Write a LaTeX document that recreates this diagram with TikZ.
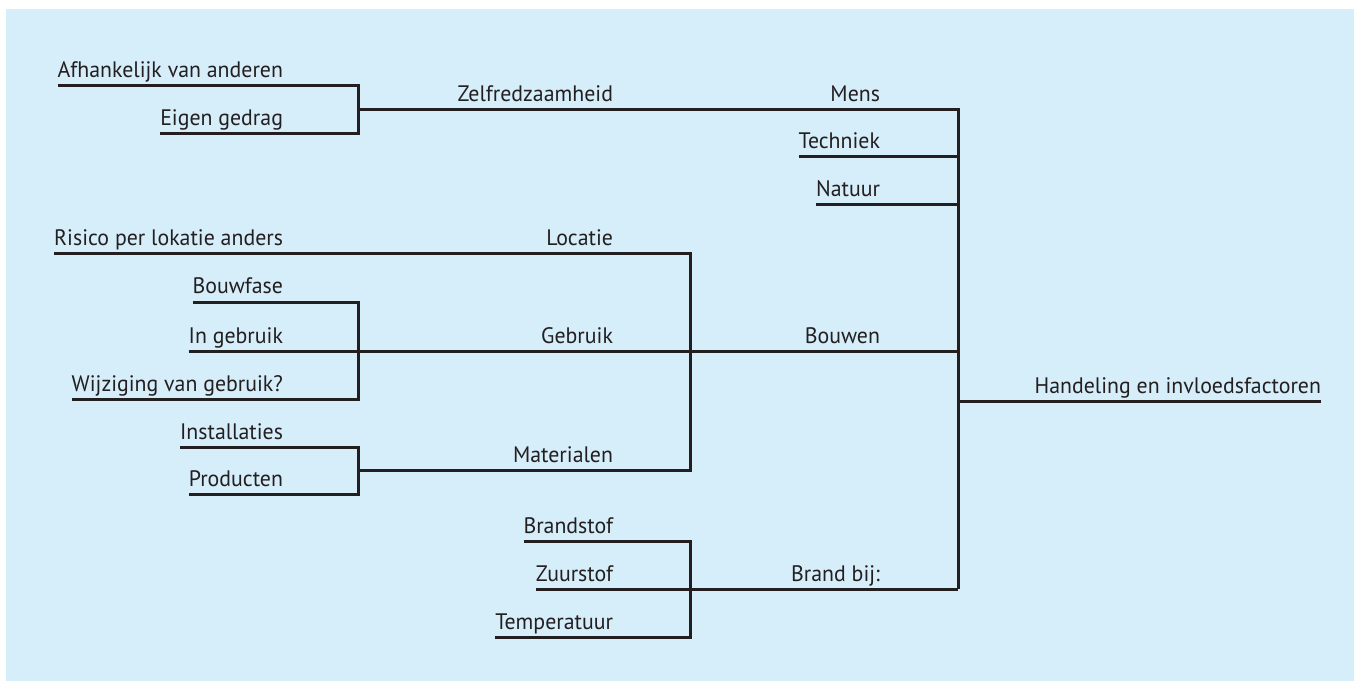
\documentclass[tikz,border=0pt]{standalone}
\usepackage{fontspec}
\setmainfont{PT Sans}[FakeStretch=0.975]
\definecolor{bgblue}{RGB}{214,237,250}
\definecolor{ink}{RGB}{35,31,32}
\begin{document}
\begin{tikzpicture}[x=0.75pt,y=-0.75pt,
  lab/.style={inner sep=0pt,outer sep=0pt,anchor=base east,text=ink,font=\fontsize{16.8}{18}\selectfont},
  wire/.style={draw=ink,line width=2.25pt,line cap=butt,line join=miter}]
\useasboundingbox (0,0) rectangle (1354,681);
\fill[bgblue] (6,9) rectangle (1354,681);
% junction coordinates
\coordinate (v1a) at (358,110);
\coordinate (v1b) at (358,351);
\coordinate (v1c) at (358,470);
\coordinate (v2a) at (690,351);
\coordinate (v2b) at (690,589);
\coordinate (v3) at (958,401);
% column A labels (right edge 283)
\node[lab] (afh) at (283,78) {Afhankelijk van anderen};
\node[lab] (eig) at (283,126) {Eigen gedrag};
\node[lab] (ris) at (283,246) {Risico per lokatie anders};
\node[lab] (bouwf) at (283,294) {Bouwfase};
\node[lab] (ingeb) at (283,343) {In gebruik};
\node[lab] (wijz) at (283,391) {Wijziging van gebruik?};
\node[lab] (inst) at (283,439) {Installaties};
\node[lab] (prod) at (283,486) {Producten};
% column B labels (right edge 613)
\node[lab] (zelf) at (613,102) {Zelfredzaamheid};
\node[lab] (loc) at (613,246) {Locatie};
\node[lab] (gebr) at (613,343) {Gebruik};
\node[lab] (mat) at (613,462) {Materialen};
\node[lab] (brst) at (613,533) {Brandstof};
\node[lab] (zuur) at (613,581) {Zuurstof};
\node[lab] (temp) at (613,629) {Temperatuur};
% column C labels (right edge 880)
\node[lab] (mens) at (880,102) {Mens};
\node[lab] (tech) at (880,149) {Techniek};
\node[lab] (nat) at (880,197) {Natuur};
\node[lab] (bouw) at (880,343) {Bouwen};
\node[lab] (brand) at (880,581) {Brand bij:};
% column D
\node[lab] (hand) at (1321,393) {Handeling en invloedsfactoren};
% group Zelfredzaamheid
\draw[wire] (afh.base west |- 0,86) -- (v1a |- 0,86) -- (v1a |- 0,134) -- (eig.base west |- 0,134);
\draw[wire] (v1a) -- (zelf.base east |- v1a) -- (mens.base east |- v1a) -- (v3 |- v1a) -- (v3 |- 0,589);
% Techniek, Natuur
\draw[wire] (tech.base west |- 0,157) -- (v3 |- 0,157);
\draw[wire] (nat.base west |- 0,205) -- (v3 |- 0,205);
% group Gebruik
\draw[wire] (bouwf.base west |- 0,302) -- (v1b |- 0,302) -- (v1b |- 0,399) -- (wijz.base west |- 0,399);
\draw[wire] (ingeb.base west |- v1b) -- (v1b) -- (gebr.base east |- v1b) -- (v2a) -- (bouw.base east |- v1b) -- (v3 |- v1b);
% Locatie / Materialen
\draw[wire] (ris.base west |- 0,254) -- (loc.base east |- 0,254) -- (v2a |- 0,254) -- (v2a |- v1c) -- (mat.base east |- v1c) -- (v1c);
\draw[wire] (inst.base west |- 0,447) -- (v1c |- 0,447) -- (v1c |- 0,494) -- (prod.base west |- 0,494);
% Brand group
\draw[wire] (brst.base west |- 0,541) -- (v2b |- 0,541) -- (v2b |- 0,637) -- (temp.base west |- 0,637);
\draw[wire] (zuur.base west |- v2b) -- (v2b) -- (brand.base east |- v2b) -- (v3 |- v2b);
% main output
\draw[wire] (v3) -- (hand.base east |- v3);
\end{tikzpicture}
\end{document}
